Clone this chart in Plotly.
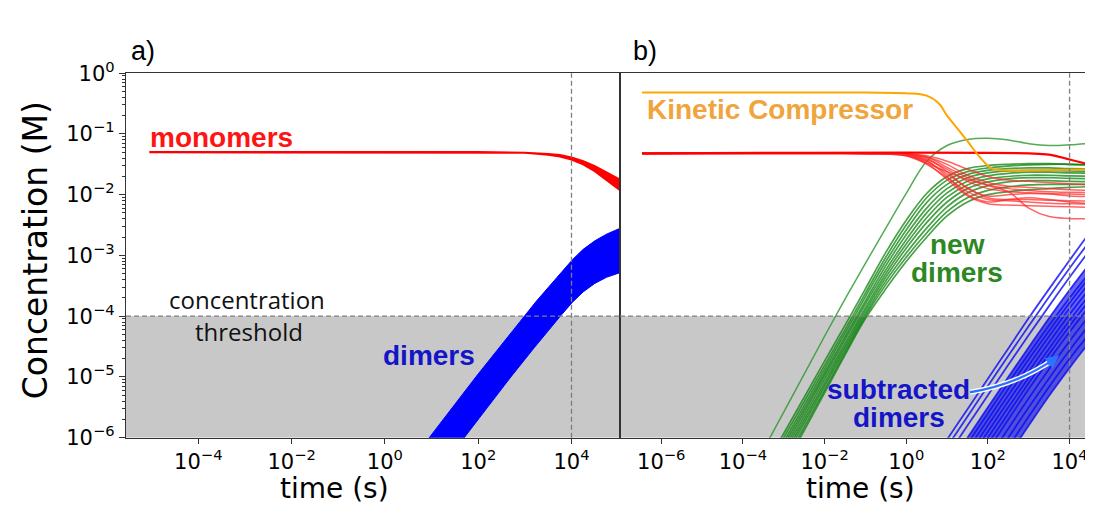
import numpy as np
import plotly.graph_objects as go

W, H = 1093, 508

# ---------------- data: log10 values ----------------
# Panel a) monomers band (upper / lower edge)
a_red_t = [-5.05, 2.0, 2.5, 3.0, 3.5, 3.75, 4.0, 4.25, 4.5, 4.75, 5.05, 5.3]
a_red_hi = [-1.30, -1.30, -1.30, -1.31, -1.33, -1.35, -1.39, -1.45, -1.53, -1.63, -1.76, -1.88]
a_red_lo = [-1.30, -1.30, -1.30, -1.31, -1.34, -1.37, -1.42, -1.50, -1.61, -1.75, -1.93, -2.08]

# Panel a) dimers band (upper / lower edge)
a_blue_hi_t = [0.3, 0.94, 1.5, 2.0, 2.5, 2.97, 3.25, 3.51, 3.75, 4.02, 4.25, 4.5, 4.75, 5.05, 5.3]
a_blue_hi = [-6.65, -6.0, -5.45, -4.95, -4.47, -4.0, -3.75, -3.52, -3.30, -3.07, -2.90, -2.76, -2.65, -2.55, -2.49]
a_blue_lo_t = [1.0, 1.69, 2.2, 2.7, 3.2, 3.76, 4.02, 4.25, 4.5, 4.75, 5.05, 5.3]
a_blue_lo = [-6.7, -6.0, -5.5, -5.0, -4.52, -4.0, -3.77, -3.6, -3.46, -3.36, -3.28, -3.23]

# Panel b) Kinetic Compressor
b_kc_t = [-6.47, -1.0, 0.0, 0.5, 0.8, 1.0, 1.3, 1.5, 1.8, 2.1, 2.5, 3.0, 4.0, 4.78]
b_kc = [-0.32, -0.32, -0.33, -0.37, -0.50, -0.70, -0.95, -1.12, -1.38, -1.57, -1.60, -1.60, -1.59, -1.58]

# Panel b) monomers: unperturbed line and perturbed lines
b_red_main_t = [-6.47, 3.0, 3.5, 4.0, 4.4, 4.78]
b_red_main = [-1.32, -1.32, -1.34, -1.42, -1.49, -1.56]

b_red_t = [-6.47, -1.0, 0.0, 0.5, 1.0, 1.5, 2.0, 2.5, 3.0, 3.5, 4.0, 4.78]
b_red_lines = [
    [-1.32, -1.32, -1.33, -1.38, -1.50, -1.68, -1.80, -1.86, -1.88, -1.90, -1.92, -1.93],
    [-1.32, -1.32, -1.34, -1.42, -1.58, -1.78, -1.90, -1.95, -1.97, -1.98, -1.99, -2.00],
    [-1.32, -1.32, -1.33, -1.40, -1.62, -1.90, -2.02, -2.00, -1.98, -1.99, -2.02, -2.04],
    [-1.32, -1.32, -1.35, -1.45, -1.66, -1.88, -2.05, -2.08, -2.08, -2.09, -2.10, -2.11],
    [-1.32, -1.32, -1.36, -1.50, -1.72, -1.95, -2.08, -2.10, -2.12, -2.14, -2.15, -2.16],
    [-1.32, -1.32, -1.34, -1.44, -1.70, -2.00, -2.12, -2.08, -2.05, -2.08, -2.12, -2.16],
    [-1.32, -1.32, -1.35, -1.48, -1.75, -2.02, -2.15, -2.17, -2.18, -2.19, -2.20, -2.21],
    [-1.32, -1.32, -1.33, -1.38, -1.55, -1.72, -1.85, -1.95, -2.22, -2.36, -2.39, -2.40],
    [-1.32, -1.32, -1.36, -1.48, -1.62, -1.75, -1.84, -1.90, -1.93, -1.95, -1.96, -1.97],
    [-1.32, -1.32, -1.33, -1.36, -1.45, -1.58, -1.70, -1.76, -1.78, -1.80, -1.82, -1.84],
]

# Panel b) new dimers
b_grn_t = [-4.0, -3.0, -2.0, -1.5, -1.0, -0.5, 0.0, 0.5, 1.0, 1.5, 2.0, 2.5, 3.0, 3.5, 4.0, 4.78]
b_grn_outlier = [-6.82, -5.58, -4.33, -3.72, -3.13, -2.55, -1.98, -1.45, -1.19, -1.09, -1.07, -1.10, -1.16, -1.19, -1.18, -1.14]
b_grn_lines = [
    [-7.10, -5.93, -4.74, -4.15, -3.55, -2.95, -2.42, -1.98, -1.70, -1.57, -1.52, -1.50, -1.49, -1.49, -1.50, -1.52],
    [-7.18, -6.00, -4.81, -4.22, -3.62, -3.03, -2.50, -2.05, -1.76, -1.62, -1.56, -1.53, -1.51, -1.50, -1.50, -1.51],
    [-7.25, -6.07, -4.87, -4.28, -3.68, -3.10, -2.58, -2.13, -1.83, -1.67, -1.60, -1.57, -1.56, -1.56, -1.57, -1.58],
    [-7.32, -6.13, -4.93, -4.34, -3.75, -3.17, -2.66, -2.22, -1.90, -1.72, -1.64, -1.61, -1.60, -1.60, -1.61, -1.62],
    [-7.38, -6.19, -4.98, -4.39, -3.80, -3.24, -2.74, -2.30, -1.97, -1.78, -1.69, -1.65, -1.63, -1.63, -1.64, -1.65],
    [-7.44, -6.25, -5.04, -4.45, -3.86, -3.30, -2.81, -2.38, -2.04, -1.84, -1.74, -1.70, -1.68, -1.68, -1.69, -1.70],
    [-7.50, -6.31, -5.10, -4.50, -3.91, -3.36, -2.88, -2.46, -2.12, -1.90, -1.79, -1.74, -1.72, -1.72, -1.73, -1.74],
    [-7.56, -6.37, -5.15, -4.55, -3.96, -3.42, -2.96, -2.55, -2.20, -1.97, -1.85, -1.79, -1.77, -1.77, -1.78, -1.79],
    [-7.63, -6.44, -5.21, -4.60, -4.00, -3.48, -3.03, -2.63, -2.28, -2.05, -1.93, -1.87, -1.84, -1.83, -1.83, -1.83],
    [-7.70, -6.50, -5.26, -4.64, -4.04, -3.55, -3.10, -2.70, -2.35, -2.12, -2.00, -1.95, -1.92, -1.90, -1.88, -1.86],
]

# Panel b) subtracted dimers
b_blu_t = [0.5, 1.0, 1.5, 2.0, 2.5, 3.0, 3.5, 4.0, 4.5, 4.78]
b_blu_lines = [
    [-6.53, -6.03, -5.53, -5.03, -4.53, -4.03, -3.55, -3.08, -2.62, -2.38],
    [-6.65, -6.15, -5.65, -5.15, -4.65, -4.16, -3.68, -3.21, -2.76, -2.52],
    [-6.80, -6.30, -5.80, -5.30, -4.80, -4.31, -3.83, -3.36, -2.91, -2.68],
    [-7.00, -6.50, -6.00, -5.50, -5.00, -4.51, -4.03, -3.57, -3.13, -2.90],
    [-7.10, -6.60, -6.10, -5.60, -5.10, -4.62, -4.15, -3.70, -3.28, -3.06],
    [-7.20, -6.70, -6.20, -5.70, -5.20, -4.71, -4.24, -3.78, -3.35, -3.12],
    [-7.30, -6.80, -6.30, -5.80, -5.30, -4.81, -4.33, -3.87, -3.44, -3.22],
    [-7.40, -6.90, -6.40, -5.90, -5.40, -4.91, -4.43, -3.97, -3.54, -3.31],
    [-7.50, -7.00, -6.50, -6.00, -5.50, -5.01, -4.53, -4.07, -3.64, -3.42],
    [-7.60, -7.10, -6.60, -6.10, -5.60, -5.10, -4.62, -4.16, -3.73, -3.51],
    [-7.70, -7.20, -6.70, -6.20, -5.70, -5.20, -4.72, -4.26, -3.83, -3.61],
    [-7.85, -7.35, -6.85, -6.35, -5.85, -5.35, -4.87, -4.41, -3.98, -3.76],
    [-8.00, -7.50, -7.00, -6.50, -6.00, -5.50, -5.02, -4.56, -4.13, -3.91],
    [-8.15, -7.65, -7.15, -6.65, -6.15, -5.65, -5.16, -4.70, -4.28, -4.06],
    [-8.30, -7.80, -7.30, -6.80, -6.30, -5.80, -5.31, -4.85, -4.42, -4.21],
]

threshold = 1e-4
marker_time = 1e4
y_min = 1e-6
y_ticks = [0, -1, -2, -3, -4, -5, -6]
xa_ticks = [-4, -2, 0, 2, 4]
xb_ticks = [-6, -4, -2, 0, 2, 4]


def p10(v):
    return np.power(10.0, np.asarray(v, dtype=float))


def px(x):
    return x / W


def py(y):
    return 1 - y / H


def sup(e):
    return "10<sup>" + str(e).replace("-", "\u2212") + "</sup>"


fig = go.Figure()
A = dict(xaxis="x", yaxis="y")
B = dict(xaxis="x2", yaxis="y2")
common = dict(mode="lines", hoverinfo="skip", showlegend=False)

# ---------- panel a ----------
bx = list(a_blue_hi_t) + list(a_blue_lo_t)[::-1]
by = list(a_blue_hi) + list(a_blue_lo)[::-1]
fig.add_trace(go.Scatter(x=p10(bx), y=p10(by), fill="toself", fillcolor="#0000ff",
                         line=dict(color="#0000ff", width=1), **common, **A))
rx = list(a_red_t) + list(a_red_t)[::-1]
ry = list(a_red_hi) + list(a_red_lo)[::-1]
fig.add_trace(go.Scatter(x=p10(rx), y=p10(ry), fill="toself", fillcolor="#ff0000",
                         line=dict(color="#ff0000", width=2.2), **common, **A))

# ---------- panel b ----------
cx = list(b_blu_t) + list(b_blu_t)[::-1]
cy = list(b_blu_lines[3]) + list(b_blu_lines[-1])[::-1]
fig.add_trace(go.Scatter(x=p10(cx), y=p10(cy), fill="toself", fillcolor="rgba(0,0,230,0.6)",
                         line=dict(width=0, shape="spline"), **common, **B))
for ln in b_blu_lines:
    fig.add_trace(go.Scatter(x=p10(b_blu_t), y=p10(ln),
                             line=dict(color="rgba(10,10,245,0.8)", width=1.8, shape="spline"), **common, **B))
for ln in b_grn_lines:
    fig.add_trace(go.Scatter(x=p10(b_grn_t), y=p10(ln),
                             line=dict(color="rgba(0,125,0,0.72)", width=1.7, shape="spline"), **common, **B))
fig.add_trace(go.Scatter(x=p10(b_grn_t), y=p10(b_grn_outlier),
                         line=dict(color="rgba(40,150,40,0.8)", width=1.5, shape="spline"), **common, **B))
for ln in b_red_lines:
    fig.add_trace(go.Scatter(x=p10(b_red_t), y=p10(ln),
                             line=dict(color="rgba(255,40,40,0.72)", width=1.5, shape="spline"), **common, **B))
fig.add_trace(go.Scatter(x=p10(b_red_main_t), y=p10(b_red_main),
                         line=dict(color="#ff0000", width=2.2, shape="spline"), **common, **B))
fig.add_trace(go.Scatter(x=p10(b_kc_t), y=p10(b_kc),
                         line=dict(color="#ffa500", width=2, shape="spline"), **common, **B))

# ---------- shapes ----------
grey = "rgb(200,200,200)"
dash_col = "#7f7f7f"
shapes = []
for xr, yr in (("x", "y"), ("x2", "y2")):
    shapes.append(dict(type="rect", xref=xr + " domain", yref=yr, x0=0, x1=1, y0=y_min, y1=threshold,
                       fillcolor=grey, line=dict(width=0), layer="below"))
    shapes.append(dict(type="line", xref=xr + " domain", yref=yr, x0=0, x1=1, y0=threshold,
                       y1=threshold, line=dict(color=dash_col, width=1.3, dash="5px,3px"), layer="above"))
    shapes.append(dict(type="line", xref=xr, yref=yr + " domain", x0=marker_time, x1=marker_time,
                       y0=0, y1=1, line=dict(color=dash_col, width=1.3, dash="5px,3px"), layer="above"))

# curved arrow for "subtracted dimers"
p0, c0, p2 = (962, 390), (1009, 382), (1046, 355)
path = "M {} {} Q {} {} {} {}".format(px(p0[0]), py(p0[1]), px(c0[0]), py(c0[1]), px(p2[0]), py(p2[1]))
shapes.append(dict(type="path", xref="paper", yref="paper", path=path,
                   line=dict(color="white", width=5), layer="above"))
shapes.append(dict(type="path", xref="paper", yref="paper", path=path,
                   line=dict(color="#2b72ff", width=2.4), layer="above"))

# ---------- annotations ----------
BOLD = "Liberation Sans, Arial, Helvetica, sans-serif"
REG = "DejaVu Sans, sans-serif"
ann = []


def txt(text, x, y, size, color, family, **kw):
    d = dict(text=text, x=px(x), y=py(y), xref="paper", yref="paper", showarrow=False,
             xanchor="center", yanchor="middle", font=dict(size=size, color=color, family=family))
    d.update(kw)
    ann.append(d)


txt("a)", 135, 30, 27, "black", BOLD)
txt("b)", 637, 30, 27, "black", BOLD)
txt("<b>monomers</b>", 213, 121, 28, "#ff1414", BOLD)
txt("<b>dimers</b>", 421, 351, 28, "#1414c8", BOLD)
txt("concentration", 239, 292, 24, "#111111", "Open Sans, DejaVu Sans, sans-serif", borderpad=0)
txt("threshold", 241, 326, 24, "#111111", "Open Sans, DejaVu Sans, sans-serif", borderpad=0)
txt("<b>Kinetic Compressor</b>", 772, 91, 28, "#f0a43c", BOLD)
txt("<b>new</b>", 949, 234, 28, "#2d8723", BOLD)
txt("<b>dimers</b>", 949, 263, 28, "#2d8723", BOLD)
txt("<b>subtracted</b>", 890, 387, 28, "#1515c8", BOLD)
txt("<b>dimers</b>", 891, 417, 28, "#1515c8", BOLD)
txt("time (s)", 326, 492, 28, "black", REG)
txt("time (s)", 852, 492, 28, "black", REG)
txt("Concentration (M)", 27, 240, 33, "black", REG, textangle=-90)

# arrow head
ann.append(dict(x=px(1051), y=py(351), xref="paper", yref="paper", ax=-13, ay=10, axref="pixel",
                ayref="pixel", showarrow=True, arrowhead=2, arrowsize=1.1, arrowwidth=2.4,
                arrowcolor="#2b72ff", text=""))

axis_line = dict(showline=True, linecolor="#333333", linewidth=1.3, showgrid=False, zeroline=False)
tickfont = dict(size=21, color="black", family=REG)

fig.update_layout(
    width=W, height=H, margin=dict(l=0, r=0, t=0, b=0),
    paper_bgcolor="white", plot_bgcolor="white", showlegend=False,
    shapes=shapes, annotations=ann,
    xaxis=dict(type="log", domain=[px(118), px(612)], range=[-5.55, 5.04], anchor="y",
               tickvals=p10(xa_ticks).tolist(), ticktext=[sup(e) for e in xa_ticks],
               ticks="outside", ticklen=5, tickwidth=1.2, tickcolor="#333333", tickfont=tickfont,
               mirror=True, **axis_line),
    yaxis=dict(type="log", domain=[py(438), py(53)], range=[-6, 0], anchor="x",
               tickvals=p10(y_ticks).tolist(), ticktext=[sup(e) for e in y_ticks],
               ticks="outside", ticklen=6, tickwidth=1.2, tickcolor="#333333", tickfont=tickfont,
               minor=dict(ticks="outside", ticklen=3, tickwidth=0.8, tickcolor="#333333", dtick="D1"),
               mirror=True, **axis_line),
    xaxis2=dict(type="log", domain=[px(612), 1.0], range=[-7.01, 4.77], anchor="y2",
                tickvals=p10(xb_ticks).tolist(), ticktext=[sup(e) for e in xb_ticks],
                ticks="outside", ticklen=5, tickwidth=1.2, tickcolor="#333333", tickfont=tickfont,
                mirror=True, **axis_line),
    yaxis2=dict(type="log", domain=[py(438), py(53)], range=[-6, 0], anchor="x2",
                showticklabels=False, ticks="", mirror=False, **axis_line),
)

fig.write_html("out.html")
